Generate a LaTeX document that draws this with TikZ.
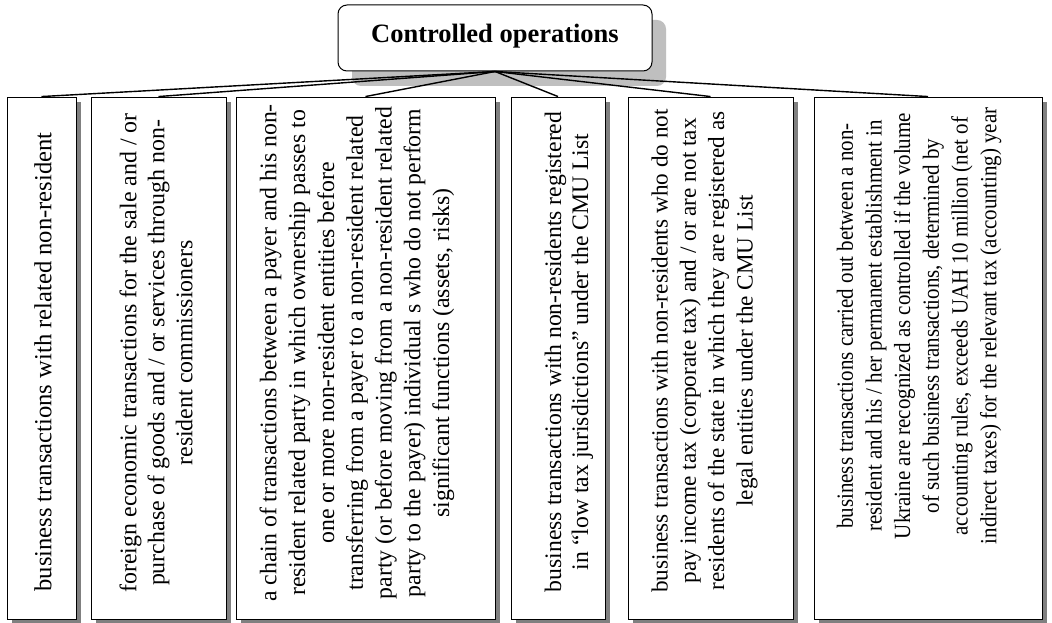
\documentclass[tikz,border=0pt]{standalone}
\usepackage{fontspec}
\setmainfont{Liberation Serif}
\newfontfamily\narrowserif[FakeStretch=0.905]{Liberation Serif}
\usetikzlibrary{shadows}
\begin{document}
\begin{tikzpicture}[x=1pt,y=1pt,
  catbox/.style={draw=black, line width=0.9pt, fill=white, minimum height=522pt, inner sep=0pt,
    drop shadow={shadow xshift=5pt, shadow yshift=-5pt, fill=black!50, opacity=1}},
  cattext/.style={rotate=90, align=center, inner sep=0pt},
  link/.style={line width=1.4pt},
  titlebox/.style={draw=black, line width=1pt, rounded corners=9pt, fill=white,
    minimum width=314pt, minimum height=66pt, inner sep=0pt,
    text height=18pt, text depth=9.5pt,
    font=\bfseries\fontsize{26.5}{30}\selectfont,
    drop shadow={shadow xshift=14pt, shadow yshift=-15pt, fill=black!25, opacity=1}}]
\fill[white] (0,0) rectangle (1052,622);
\useasboundingbox (0,0) rectangle (1052,622);

\node[titlebox] (top) at (495,584) {Controlled operations};

\node[catbox, minimum width=69pt]  (b1) at (41.5,264) {};
\node[catbox, minimum width=135pt] (b2) at (158.5,264) {};
\node[catbox, minimum width=259pt] (b3) at (365.5,264) {};
\node[catbox, minimum width=94pt]  (b4) at (558,264) {};
\node[catbox, minimum width=165pt] (b5) at (710.5,264) {};
\node[catbox, minimum width=228pt] (b6) at (928,264) {};

\foreach \b in {b1,b2,b3,b4,b5,b6}
  \draw[link] (top.south) -- (\b.north);

\node[cattext, font=\fontsize{24.6}{28}\selectfont] (t1) at (43,260) {business transactions with related non-resident};
\node[cattext, font=\fontsize{23.9}{28}\selectfont] (t2) at (156,269) {foreign economic transactions for the sale and / or\\purchase of goods and / or services through non-\\resident commissioners};
\node[cattext, font=\fontsize{23.8}{28.8}\selectfont] (t3) at (357,269) {a chain of transactions between a payer and his non-\\resident related party in which ownership passes to\\one or more non-resident entities before\\transferring from a payer to a non-resident related\\party (or before moving from a non-resident related\\party to the payer) individual s who do not perform\\significant functions (assets, risks)};
\node[cattext, font=\fontsize{23.7}{27}\selectfont] (t4) at (569,270) {business transactions with non-residents registered\\in “low tax jurisdictions” under the CMU List};
\node[cattext, font=\fontsize{23.2}{28.3}\selectfont] (t5) at (704.5,271) {business transactions with non-residents who do not\\pay income tax (corporate tax) and / or are not tax\\residents of the state in which they are registered as\\legal entities under the CMU List};
\node[cattext, font=\narrowserif\fontsize{23.2}{28.7}\selectfont] (t6) at (919,296) {business transactions carried out between a non-\\resident and his / her permanent establishment in\\Ukraine are recognized as controlled if the volume\\of such business transactions, determined by\\accounting rules, exceeds UAH 10 million (net of\\indirect taxes) for the relevant tax (accounting) year};
\end{tikzpicture}
\end{document}
